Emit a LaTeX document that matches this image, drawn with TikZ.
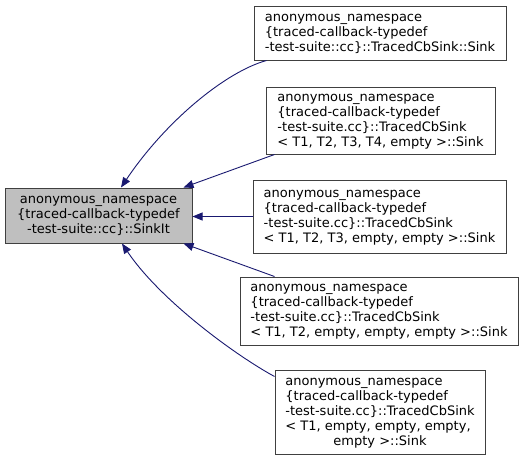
\documentclass[tikz,border=0pt]{standalone}
\usepackage{fontspec}
\setmainfont{DejaVu Sans}
\usetikzlibrary{arrows.meta}
\definecolor{edgeblue}{HTML}{191970}
\definecolor{boxgray}{HTML}{BFBFBF}
\definecolor{boxline}{HTML}{404040}
\tikzset{
  cls/.style={draw=boxline, line width=1pt, fill=white, inner sep=0pt, font=\fontsize{13}{15}\selectfont},
  base/.style={cls, fill=boxgray},
  inh/.style={draw=edgeblue, line width=0.9pt, -{Triangle[length=10pt,width=8pt]}}
}
\newcommand{\lines}[1]{\begin{tabular}{@{}l@{}}#1\end{tabular}}
\begin{document}
\begin{tikzpicture}[x=1pt,y=-1pt]
\useasboundingbox (0,0) rectangle (525,461);
\node[base, minimum width=187pt, minimum height=55pt, align=center] (L) at (98.5,215.5)
  {anonymous\_namespace\\{\{}traced-callback-typedef\\-test-suite::cc{\}}::SinkIt};
\node[cls, minimum width=252pt, minimum height=54pt] (n1) at (380,33)
  {\lines{anonymous\_namespace\\{\{}traced-callback-typedef\\-test-suite::cc{\}}::TracedCbSink::Sink}};
\node[cls, minimum width=229pt, minimum height=67pt] (n2) at (380.5,120.5)
  {\lines{anonymous\_namespace\\{\{}traced-callback-typedef\\-test-suite.cc{\}}::TracedCbSink\\< T1, T2, T3, T4, empty >::Sink}};
\node[cls, minimum width=253pt, minimum height=73pt] (n3) at (379.5,216.5)
  {\lines{anonymous\_namespace\\{\{}traced-callback-typedef\\-test-suite.cc{\}}::TracedCbSink\\< T1, T2, T3, empty, empty >::Sink}};
\node[cls, minimum width=278pt, minimum height=68pt] (n4) at (379,311)
  {\lines{anonymous\_namespace\\{\{}traced-callback-typedef\\-test-suite.cc{\}}::TracedCbSink\\< T1, T2, empty, empty, empty >::Sink}};
\node[cls, minimum width=210pt, minimum height=84pt] (n5) at (380,412)
  {\lines{anonymous\_namespace\\{\{}traced-callback-typedef\\-test-suite.cc{\}}::TracedCbSink\\< T1, empty, empty, empty,\\\multicolumn{1}{@{}c@{}}{empty >::Sink}}};
\draw[inh] ([xshift=13pt]n1.south west) .. controls (225,72) and (165,122) .. ([xshift=22.5pt]L.north);
\draw[inh] ([xshift=9pt]n2.south west) -- ([xshift=-9pt]L.north east);
\draw[inh] (n3.west) -- (L.east |- n3.west);
\draw[inh] ([xshift=35pt]n4.north west) -- ([xshift=-9pt]L.south east);
\draw[inh] ([yshift=-7pt]n5.north west) .. controls (235,355) and (160,300) .. ([xshift=23.5pt]L.south);
\end{tikzpicture}
\end{document}
